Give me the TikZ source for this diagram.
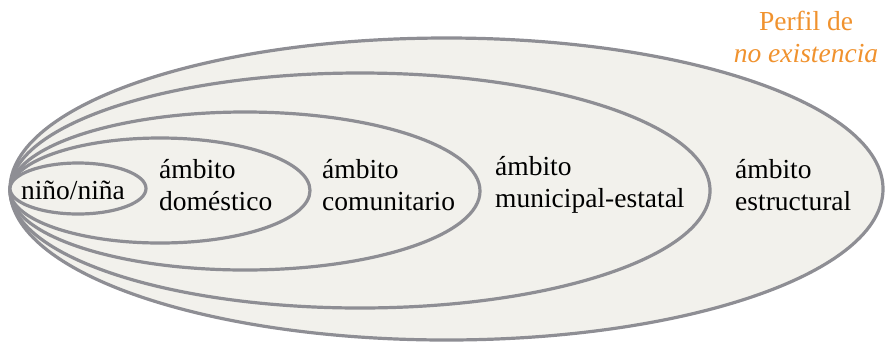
\documentclass[tikz,border=0pt]{standalone}
\usepackage{fontspec}
\setmainfont{Liberation Serif}
\usetikzlibrary{positioning}
\definecolor{ringgray}{RGB}{142,142,148}
\definecolor{ringfill}{RGB}{242,241,236}
\definecolor{perfilorange}{RGB}{240,146,46}
\begin{document}
\begin{tikzpicture}[x=1pt,y=-1pt,
  ring/.style={draw=ringgray,line width=3.2pt,fill=ringfill},
  every node/.style={font=\fontsize{27.5}{32}\selectfont,inner sep=0pt}]
  \useasboundingbox (0,0) rectangle (885,341);
  % nested ambits, outer first
  \draw[ring] (446.5,189) ellipse [x radius=436.5, y radius=151];
  \draw[ring] (360,190.5) ellipse [x radius=350, y radius=117.5];
  \draw[ring] (245,191) ellipse [x radius=235, y radius=79];
  \draw[ring] (160,190.5) ellipse [x radius=150, y radius=52.5];
  \draw[ring] (78,188.5) ellipse [x radius=68, y radius=25.5];

  \node (nino) at (73,190) {niño/niña};
  \node[anchor=west,align=left] (domestico) at (159,185) {ámbito\\doméstico};
  \node[anchor=west,align=left] (comunitario) at (322,185) {ámbito\\comunitario};
  \node[anchor=west,align=left] (municipal) at (495,185) {ámbito\\municipal-estatal};
  \node[anchor=west,align=left] (estructural) at (735,185) {ámbito\\estructural};

  \node[align=center,text=perfilorange] (perfil) at (806,37) {Perfil de\\\textit{no existencia}};
\end{tikzpicture}
\end{document}
